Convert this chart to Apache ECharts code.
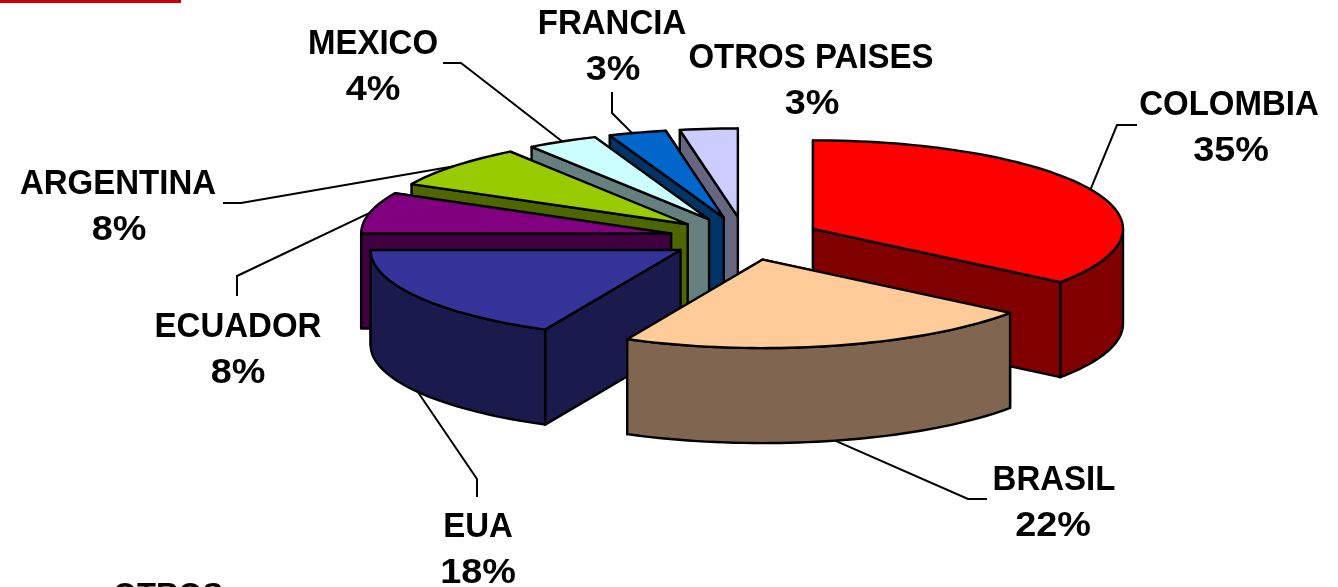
<!DOCTYPE html>
<html>
<head>
<meta charset="utf-8">
<style>html,body{margin:0;padding:0;background:#fff}#c{width:1338px;height:587px}</style>
<script src="https://cdn.jsdelivr.net/npm/echarts@6/dist/echarts.min.js"></script>
</head>
<body>
<div id="c"></div>
<script>
// ---- data ----
var categories = ['COLOMBIA','BRASIL','EUA','ECUADOR','ARGENTINA','MEXICO','FRANCIA','OTROS PAISES'];
var shares = [35.3, 21.9, 17.8, 7.5, 7.8, 3.7, 3, 3];
var topColors = ['#FF0000','#FFCC99','#333399','#800080','#99CC00','#CCFFFF','#0066CC','#CCCCFF'];
var wallColors = ['#800000','#806650','#1A1A4D','#400040','#4D6600','#668080','#003366','#666680'];

// ---- layout ----
var pie = {cx:745, cy:238.5, rx:310, ry:88.5, depth:95, explode:0.245};
var FONT = '"Liberation Sans", Arial, sans-serif';
var FS = 33;
var labelLayout = [
  {x:1229, y:105, px:1231, py:151, elbow:[[1137,125],[1117,125]], low:false, da:0},
  {x:1054, y:480, px:1053, py:526, elbow:[[987,499],[968,499]], low:true, da:0},
  {x:478,  y:527, px:478,  py:573, elbow:[[477,497],[477,479]], low:true, da:0},
  {x:238,  y:327, px:238,  py:373, elbow:[[237,296],[237,276]], low:false, da:0},
  {x:118,  y:184, px:119,  py:230, elbow:[[223,203],[241,203]], low:false, da:0},
  {x:373,  y:44,  px:373,  py:90,  elbow:[[443,63],[461,63]], low:false, da:0},
  {x:612,  y:24,  px:613,  py:70,  elbow:[[612,92],[612,113]], low:false, da:-1},
  {x:811,  y:58,  px:812,  py:104, elbow:null, low:false, da:0}
];

var total = shares.reduce(function(a,b){return a+b;},0);
var slices = [], acc = 0;
shares.forEach(function(v,i){
  var t0 = acc/total*2*Math.PI; acc += v;
  var t1 = acc/total*2*Math.PI, mid=(t0+t1)/2;
  slices.push({i:i,t0:t0,t1:t1,mid:mid,
    ax:pie.cx+pie.explode*pie.rx*Math.sin(mid),
    ay:pie.cy-pie.explode*pie.ry*Math.cos(mid)});
});
var order = slices.slice().sort(function(a,b){return Math.cos(b.mid)-Math.cos(a.mid);});

function rim(s,t,dz){return [s.ax+pie.rx*Math.sin(t), s.ay-pie.ry*Math.cos(t)+(dz||0)];}
function arc(s,a,b,dz){var n=Math.max(2,Math.ceil((b-a)/0.03)),p=[];for(var k=0;k<=n;k++)p.push(rim(s,a+(b-a)*k/n,dz));return p;}
function poly(points,fill,z2){return {type:'polygon',z2:z2,shape:{points:points},style:{fill:fill,stroke:'#000',lineWidth:2.4,lineJoin:'round'}};}
function wall(s,t,fill,z2){var p=rim(s,t),q=rim(s,t,pie.depth);return poly([[s.ax,s.ay],p,q,[s.ax,s.ay+pie.depth]],fill,z2);}

function renderItem(params,api){
  var s = order[params.dataIndex], c = [];
  var wc = wallColors[s.i], tc = topColors[s.i];
  var t0Front = Math.sin(s.t0) < -1e-6, t1Front = Math.sin(s.t1) > 1e-6;
  if(!t0Front) c.push(wall(s,s.t0,wc,1));
  if(!t1Front) c.push(wall(s,s.t1,wc,1));
  if(t0Front) c.push(wall(s,s.t0,wc,2));
  if(t1Front) c.push(wall(s,s.t1,wc,2));
  var a=Math.max(s.t0,Math.PI/2), b=Math.min(s.t1,Math.PI*1.5);
  if(b>a){ c.push(poly(arc(s,a,b,0).concat(arc(s,a,b,pie.depth).reverse()),wc,3)); }
  c.push(poly([[s.ax,s.ay]].concat(arc(s,s.t0,s.t1,0)),tc,4));
  return {type:'group',children:c};
}

function renderLabels(params,api){
  var s = slices[params.dataIndex], L = labelLayout[s.i], c=[];
  var val = Math.round(api.value(0));
  if(L.elbow){
    var end = rim(s,s.mid+L.da*Math.PI/180,L.low?pie.depth:0);
    c.push({type:'polyline',shape:{points:L.elbow.concat([end])},style:{fill:null,stroke:'#000',lineWidth:2}});
  }
  c.push({type:'text',x:L.x,y:L.y,scaleY:1.05,style:{x:0,y:0,text:categories[s.i],font:'bold '+FS+'px '+FONT,fill:'#000',align:'center',verticalAlign:'middle'}});
  c.push({type:'text',x:L.px,y:L.py,scaleX:1.08,style:{x:0,y:0,text:val+'%',font:'bold 35px '+FONT,fill:'#000',align:'center',verticalAlign:'middle'}});
  return {type:'group',children:c};
}

var chart = echarts.init(document.getElementById('c'),null,{renderer:'canvas'});
chart.setOption({
  backgroundColor:'#fff',
  animation:false,
  tooltip:{show:false},
  graphic:[
    {type:'rect',shape:{x:0,y:0,width:181,height:3},style:{fill:'#CC0000'}},
    {type:'text',style:{x:168,y:596,text:'OTROS',font:'bold 31px '+FONT,fill:'#000',align:'center',verticalAlign:'middle'}}
  ],
  series:[
    {type:'custom',coordinateSystem:'none',z:2,silent:true,clip:false,renderItem:renderLabels,
     data:slices.map(function(s){return [shares[s.i]];})},
    {type:'custom',coordinateSystem:'none',z:3,silent:true,clip:false,renderItem:renderItem,
     data:order.map(function(s){return [shares[s.i]];})}
  ]
});
</script>
</body>
</html>
